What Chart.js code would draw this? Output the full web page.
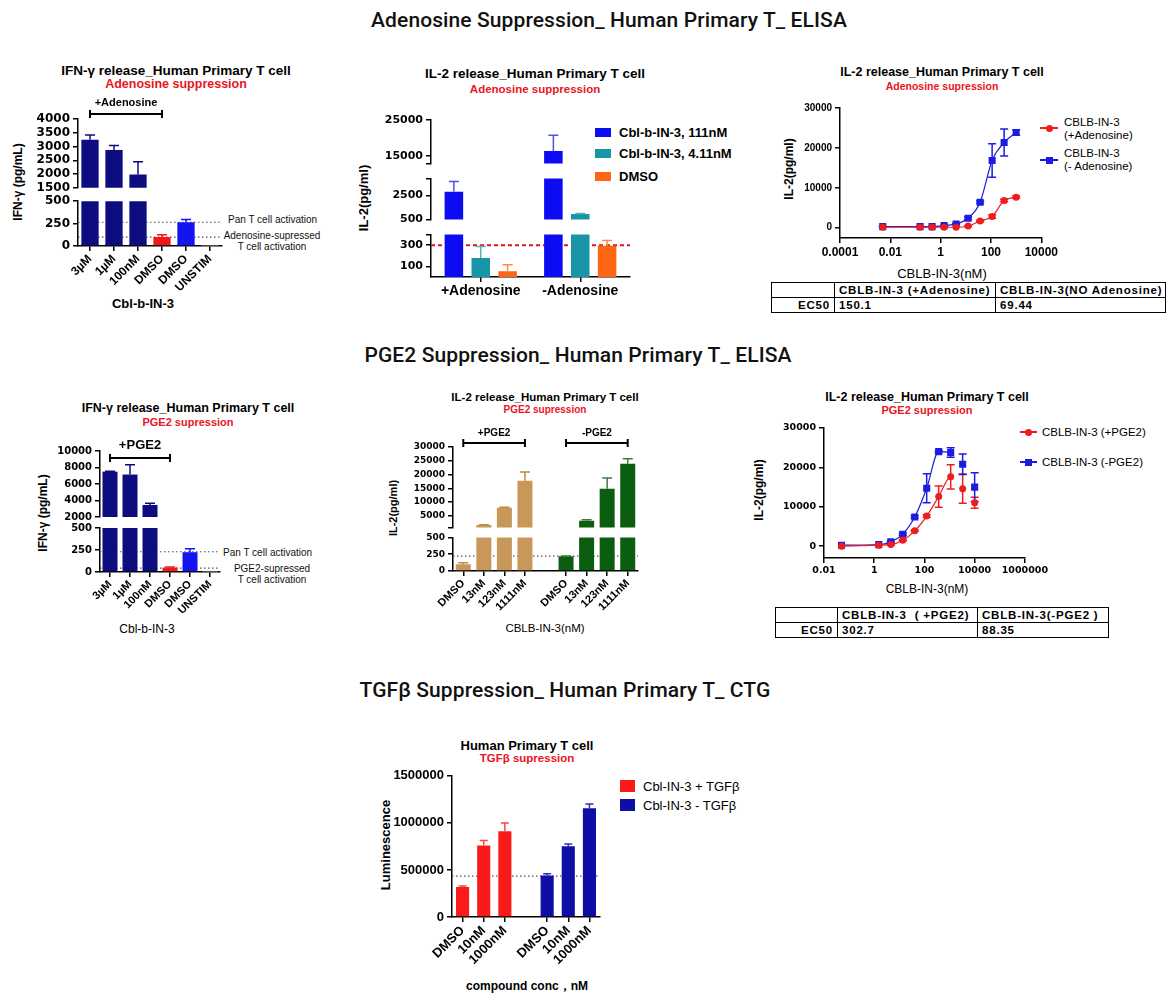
<!DOCTYPE html>
<html>
<head>
<meta charset="UTF-8">
<title>Cbl-b-IN-3 suppression assays</title>
<script src="https://cdn.jsdelivr.net/npm/chart.js"></script>
<style>
  body { margin: 0; width: 1175px; height: 1004px; position: relative; overflow: hidden; background: #fff; color: #000; font-family: 'Liberation Sans', Arial, sans-serif; }
  canvas, .c, .l, .v, table, .sw { position: absolute; }
  .c { transform: translate(-50%, -50%); white-space: nowrap; }
  .l { transform: translateY(-50%); white-space: nowrap; }
  .v { transform: translate(-50%, -50%) rotate(-90deg); white-space: nowrap; font-weight: bold; }
  .sec { font-family: Roboto, sans-serif; font-weight: 500; font-size: 21px; color: #111; letter-spacing: 0.1px; }
  .ttl { font-weight: bold; font-size: 12px; }
  .sub { font-weight: bold; font-size: 11px; color: #e8161e; }
  .note { font-size: 10px; color: #111; }
  .b { font-weight: bold; }
  table { border-collapse: collapse; font-weight: bold; font-size: 11.5px; letter-spacing: 0.8px; table-layout: fixed; }
  td { border: 1px solid #000; padding: 0 4px; height: 14px; line-height: 14px; white-space: nowrap; overflow: hidden; }
  td.r { text-align: right; }
</style>
</head>
<body>

<!-- section titles -->
<div class="c sec" style="left:609px; top:20px">Adenosine Suppression_ Human Primary T_ ELISA</div>
<div class="c sec" style="left:578px; top:355px">PGE2 Suppression_ Human Primary T_ ELISA</div>
<div class="c sec" style="left:565px; top:690px">TGFβ Suppression_ Human Primary T_ CTG</div>

<!-- A: IFN-g, adenosine -->
<div class="c ttl" style="left:176px; top:70px; font-size:13.5px">IFN-γ release_Human Primary T cell</div>
<div class="c sub" style="left:176px; top:84px; font-size:12.5px">Adenosine suppression</div>
<div class="v" style="left:18px; top:182px; font-size:12px">IFN-γ (pg/mL)</div>
<div class="c b" style="left:143px; top:303px; font-size:13px">Cbl-b-IN-3</div>
<div class="l note" style="left:228px; top:219px">Pan T cell activation</div>
<div class="c note" style="left:272px; top:235px">Adenosine-supressed</div>
<div class="c note" style="left:272px; top:246px">T cell activation</div>
<canvas id="aTop" width="235" height="103" style="left:0; top:95px"></canvas>
<canvas id="aBot" width="235" height="111" style="left:0; top:191px"></canvas>

<!-- B: IL-2, adenosine -->
<div class="c ttl" style="left:535px; top:73px; font-size:13.5px">IL-2 release_Human Primary T cell</div>
<div class="c sub" style="left:535px; top:89px; font-size:11.5px">Adenosine suppression</div>
<div class="v" style="left:363px; top:198px; font-size:13px">IL-2(pg/ml)</div>
<div class="sw" style="left:595px; top:128px; width:16px; height:9px; background:#0c0cf2"></div>
<div class="l b" style="left:619px; top:132px; font-size:13px">Cbl-b-IN-3, 111nM</div>
<div class="sw" style="left:595px; top:149px; width:16px; height:9px; background:#1896a8"></div>
<div class="l b" style="left:619px; top:153px; font-size:13px">Cbl-b-IN-3, 4.11nM</div>
<div class="sw" style="left:595px; top:172px; width:16px; height:9px; background:#ff6614"></div>
<div class="l b" style="left:619px; top:176px; font-size:13px">DMSO</div>
<canvas id="bTop" width="300" height="68" style="left:345px; top:105px"></canvas>
<canvas id="bMid" width="300" height="60" style="left:345px; top:169px"></canvas>
<canvas id="bBot" width="300" height="83" style="left:345px; top:225px"></canvas>

<!-- C: dose response, adenosine -->
<div class="c ttl" style="left:942px; top:72px; font-size:12.5px">IL-2 release_Human Primary T cell</div>
<div class="c sub" style="left:942px; top:86px; font-size:10.5px">Adenosine supression</div>
<div class="v" style="left:789px; top:169px; font-size:12px">IL-2(pg/ml)</div>
<div class="c" style="left:942px; top:273px; font-size:13px">CBLB-IN-3(nM)</div>
<div class="sw" style="left:1040px; top:127px; width:18px; height:1.5px; background:#ef1c1c"></div>
<div class="sw" style="left:1045.5px; top:124.5px; width:7px; height:7px; border-radius:50%; background:#ef1c1c"></div>
<div class="l" style="left:1064px; top:122px; font-size:11.5px">CBLB-IN-3</div>
<div class="l" style="left:1064px; top:135px; font-size:11.5px">(+Adenosine)</div>
<div class="sw" style="left:1040px; top:159px; width:18px; height:1.5px; background:#1c1ce0"></div>
<div class="sw" style="left:1045.5px; top:156.5px; width:7px; height:7px; background:#1c1ce0"></div>
<div class="l" style="left:1064px; top:153px; font-size:11.5px">CBLB-IN-3</div>
<div class="l" style="left:1064px; top:166px; font-size:11.5px">(- Adenosine)</div>
<canvas id="cDose" width="290" height="170" style="left:770px; top:95px"></canvas>
<table style="left:771px; top:282px; width:394px">
  <colgroup><col style="width:63px"><col style="width:161px"><col style="width:170px"></colgroup>
  <tr><td></td><td>CBLB-IN-3 (+Adenosine)</td><td>CBLB-IN-3(NO Adenosine)</td></tr>
  <tr><td class="r">EC50</td><td>150.1</td><td>69.44</td></tr>
</table>

<!-- D: IFN-g, PGE2 -->
<div class="c ttl" style="left:188px; top:408px; font-size:12.5px">IFN-γ release_Human Primary T cell</div>
<div class="c sub" style="left:188px; top:422px; font-size:11px">PGE2 supression</div>
<div class="v" style="left:43px; top:513px; font-size:12px">IFN-γ (pg/mL)</div>
<div class="c" style="left:147px; top:629px; font-size:12px">Cbl-b-IN-3</div>
<div class="l note" style="left:223px; top:552px">Pan T cell activation</div>
<div class="c note" style="left:272px; top:568px">PGE2-supressed</div>
<div class="c note" style="left:272px; top:579px">T cell activation</div>
<canvas id="dTop" width="235" height="96" style="left:0; top:430px"></canvas>
<canvas id="dBot" width="235" height="107" style="left:0; top:519px"></canvas>

<!-- E: IL-2, PGE2 bars -->
<div class="c ttl" style="left:545px; top:397px; font-size:11.5px">IL-2 release_Human Primary T cell</div>
<div class="c sub" style="left:545px; top:409px; font-size:10px">PGE2 supression</div>
<div class="v" style="left:393px; top:508px; font-size:11px">IL-2(pg/ml)</div>
<div class="c" style="left:545px; top:628px; font-size:11.5px">CBLB-IN-3(nM)</div>
<canvas id="eTop" width="275" height="111" style="left:380px; top:425px"></canvas>
<canvas id="eBot" width="275" height="89" style="left:380px; top:529px"></canvas>

<!-- F: dose response, PGE2 -->
<div class="c ttl" style="left:927px; top:397px; font-size:12.5px">IL-2 release_Human Primary T cell</div>
<div class="c sub" style="left:927px; top:410px; font-size:11px">PGE2 supression</div>
<div class="v" style="left:759px; top:490px; font-size:12px">IL-2(pg/ml)</div>
<div class="c" style="left:927px; top:589px; font-size:12px">CBLB-IN-3(nM)</div>
<div class="sw" style="left:1020px; top:431px; width:17px; height:1.5px; background:#ef1c1c"></div>
<div class="sw" style="left:1025px; top:428.5px; width:7px; height:7px; border-radius:50%; background:#ef1c1c"></div>
<div class="l" style="left:1042px; top:432px; font-size:11.5px">CBLB-IN-3 (+PGE2)</div>
<div class="sw" style="left:1020px; top:461px; width:17px; height:1.5px; background:#1c1ce0"></div>
<div class="sw" style="left:1025px; top:458.5px; width:7px; height:7px; background:#1c1ce0"></div>
<div class="l" style="left:1042px; top:462px; font-size:11.5px">CBLB-IN-3 (-PGE2)</div>
<canvas id="fDose" width="290" height="172" style="left:760px; top:415px"></canvas>
<table style="left:775px; top:607px; width:333px">
  <colgroup><col style="width:62px"><col style="width:140px"><col style="width:131px"></colgroup>
  <tr><td></td><td>CBLB-IN-3&nbsp; ( +PGE2)</td><td>CBLB-IN-3(-PGE2 )</td></tr>
  <tr><td class="r">EC50</td><td>302.7</td><td>88.35</td></tr>
</table>

<!-- G: TGFb -->
<div class="c ttl" style="left:527px; top:745px; font-size:13px">Human Primary T cell</div>
<div class="c sub" style="left:527px; top:758px; font-size:11.5px">TGFβ supression</div>
<div class="v" style="left:385px; top:845px; font-size:13px">Luminescence</div>
<div class="c b" style="left:527px; top:986px; font-size:12px">compound conc，nM</div>
<div class="sw" style="left:620px; top:780px; width:15px; height:12px; background:#fb1a1a"></div>
<div class="l" style="left:643px; top:786px; font-size:13px">Cbl-IN-3 + TGFβ</div>
<div class="sw" style="left:620px; top:799px; width:15px; height:12px; background:#0e0ea6"></div>
<div class="l" style="left:643px; top:805px; font-size:13px">Cbl-IN-3 - TGFβ</div>
<canvas id="gBar" width="250" height="205" style="left:365px; top:765px"></canvas>

<script>
  // ---- IFN-g release, adenosine suppression ----
  const ifnAdoLabels = ['3µM', '1µM', '100nM', 'DMSO', 'DMSO', 'UNSTIM'];
  const ifnAdoValues = [3250, 2870, 1980, 100, 265, 3];
  const ifnAdoSd = [170, 170, 470, 25, 30, 0];
  const ifnAdoTopTicks = [1500, 2000, 2500, 3000, 3500, 4000];
  const ifnAdoLowTicks = [0, 250, 500];
  const ifnAdoPanLine = 265;
  const ifnAdoSuppLine = 100;

  // ---- IL-2 release, adenosine suppression ----
  const il2AdoGroups = ['+Adenosine', '-Adenosine'];
  const il2Ado111 = [2800, 16400];
  const il2Ado111Sd = [850, 4400];
  const il2Ado4 = [180, 960];
  const il2Ado4Sd = [108, 30];
  const il2AdoDmso = [55, 295];
  const il2AdoDmsoSd = [60, 50];
  const il2AdoTopTicks = [13000, 15000, 25000];
  const il2AdoMidTicks = [500, 2500, 3900];
  const il2AdoLowTicks = [100, 300, 400];
  const il2AdoLine = 300;

  // ---- IL-2 dose response, adenosine ----
  const adoConc = [0.005, 0.152, 0.457, 1.37, 4.12, 12.3, 37, 111, 333, 1000];
  const adoPlus = [100, 100, 100, 100, 100, 400, 1650, 2800, 6800, 7650];
  const adoPlusSd = [0, 0, 0, 0, 0, 100, 200, 450, 300, 300];
  const adoMinus = [250, 250, 250, 500, 930, 2360, 6380, 16830, 21360, 23870];
  const adoMinusSd = [100, 100, 100, 100, 150, 300, 300, 4200, 3400, 700];
  const adoFitPoints = 10;
  const adoXTicks = [0.0001, 0.01, 1, 100, 10000];
  const doseYTicks = [0, 10000, 20000, 30000];

  // ---- IFN-g release, PGE2 suppression ----
  const ifnPgeValues = [7500, 7150, 3460, 50, 225, 2];
  const ifnPgeSd = [50, 1190, 200, 6, 38, 0];
  const ifnPgeTopTicks = [2000, 4000, 6000, 8000, 10000];
  const ifnPgeLowTicks = [0, 250, 500];
  const ifnPgePanLine = 230;
  const ifnPgeSuppLine = 45;

  // ---- IL-2 release, PGE2 suppression ----
  const il2PgeDoses = ['DMSO', '13nM', '123nM', '1111nM'];
  const il2PgePlus = [100, 1600, 7900, 17700];
  const il2PgePlusSd = [22, 100, 200, 3200];
  const il2PgeMinus = [220, 3180, 14830, 23930];
  const il2PgeMinusSd = [5, 360, 3870, 1770];
  const il2PgeTopTicks = [700, 5000, 10000, 15000, 20000, 25000, 30000];
  const il2PgeLowTicks = [0, 250, 500];
  const il2PgeLine = 220;

  // ---- IL-2 dose response, PGE2 ----
  const pgeConc = [0.05, 1.52, 4.57, 13.7, 41, 123, 370, 1111, 3333, 10000];
  const pgePlus = [0, 250, 400, 1500, 3900, 7650, 12600, 17600, 14600, 11000];
  const pgePlusSd = [0, 0, 100, 200, 200, 300, 2700, 3100, 3700, 1400];
  const pgeMinus = [250, 400, 1100, 3050, 7400, 14700, 24000, 23800, 20800, 15000];
  const pgeMinusSd = [0, 0, 200, 300, 300, 3700, 300, 1200, 2600, 3650];
  const pgeFitPoints = 8;
  const pgeXTicks = [0.01, 1, 100, 10000, 1000000];

  // ---- TGFb, CTG luminescence ----
  const tgfDoses = ['DMSO', '10nM', '1000nM'];
  const tgfPlus = [318000, 759000, 911000];
  const tgfPlusSd = [10000, 53000, 88000];
  const tgfMinus = [441000, 752000, 1154000];
  const tgfMinusSd = [18000, 24000, 46000];
  const tgfTicks = [0, 500000, 1000000, 1500000];
  const tgfLine = 434000;

  const SANS = "'Liberation Sans', Arial, sans-serif";
  const WIDE = "'DejaVu Sans', sans-serif";
  const f = (size, family = SANS, weight = 'bold') => ({ size, family, weight });

  const NAVY = '#0d0d80', RED = '#f01818', BLUE = '#1414f0', GRAY = '#9a9a9a';
  const ifnColors = [NAVY, NAVY, NAVY, RED, BLUE, GRAY];

  Chart.defaults.color = '#000';
  Chart.defaults.animation = false;
  Chart.defaults.font.family = SANS;
  Chart.defaults.plugins.legend.display = false;
  Chart.defaults.plugins.tooltip.enabled = false;

  // error bars, reference lines and brackets
  function drawErrors(chart, o) {
    const { ctx, chartArea: a } = chart;
    const y = chart.scales.y;
    ctx.save();
    if (o.clip) { ctx.beginPath(); ctx.rect(a.left, a.top, a.right - a.left, a.bottom - a.top); ctx.clip(); }
    chart.data.datasets.forEach((ds, di) => {
      if (!ds.sd) return;
      chart.getDatasetMeta(di).data.forEach((el, i) => {
        const raw = ds.data[i];
        const v = raw !== null && typeof raw === 'object' ? raw.y : raw;
        const e = ds.sd[i];
        if (v == null || !e) return;
        const top = y.getPixelForValue(v + e);
        const bot = y.getPixelForValue(o.twoSided ? v - e : v);
        ctx.strokeStyle = Array.isArray(ds.errColor) ? ds.errColor[i] : ds.errColor;
        ctx.lineWidth = 1.5;
        ctx.beginPath();
        ctx.moveTo(el.x, bot); ctx.lineTo(el.x, top);
        ctx.moveTo(el.x - o.cap, top); ctx.lineTo(el.x + o.cap, top);
        if (o.twoSided) { ctx.moveTo(el.x - o.cap, bot); ctx.lineTo(el.x + o.cap, bot); }
        ctx.stroke();
      });
    });
    ctx.restore();
  }

  const extrasPlugin = {
    id: 'extras',
    beforeDatasetsDraw(chart, args, o) {
      const { ctx, chartArea: a } = chart;
      const y = chart.scales.y;
      ctx.save();
      (o.lines || []).forEach(l => {
        const py = y.getPixelForValue(l.value);
        ctx.beginPath();
        ctx.setLineDash(l.dash);
        ctx.lineWidth = l.width;
        ctx.strokeStyle = l.color;
        ctx.moveTo(a.left, py); ctx.lineTo(a.right, py);
        ctx.stroke();
      });
      ctx.restore();
      if (o.errBehind) drawErrors(chart, o);
    },
    afterDatasetsDraw(chart, args, o) {
      if (!o.errBehind) drawErrors(chart, o);
      const { ctx, chartArea: a } = chart;
      const x = chart.scales.x;
      ctx.save();
      (o.brackets || []).forEach(b => {
        const x0 = x.getPixelForValue(b.from), x1 = x.getPixelForValue(b.to), py = a.top - b.dy;
        ctx.strokeStyle = '#000';
        ctx.lineWidth = 2;
        ctx.beginPath();
        ctx.moveTo(x0, py); ctx.lineTo(x1, py);
        ctx.moveTo(x0, py - 4); ctx.lineTo(x0, py + 4);
        ctx.moveTo(x1, py - 4); ctx.lineTo(x1, py + 4);
        ctx.stroke();
        ctx.fillStyle = '#000';
        ctx.font = b.font;
        ctx.textAlign = 'center';
        ctx.textBaseline = 'middle';
        ctx.fillText(b.text, (x0 + x1) / 2, py - b.gap);
      });
      ctx.restore();
    }
  };

  const dotted = v => ({ value: v, dash: [1.5, 2.5], width: 1.2, color: '#555' });

  function yAxis(min, max, ticks, shown, width, font) {
    return {
      min, max,
      afterBuildTicks: s => { s.ticks = ticks.map(v => ({ value: v })); },
      afterFit: s => { s.width = width; },
      border: { color: '#000', width: 1.5 },
      grid: { drawOnChartArea: false, color: '#000', lineWidth: 1.5, tickLength: 5 },
      ticks: { autoSkip: false, font, color: '#000', padding: 3, callback: v => shown.includes(v) ? String(v) : '' }
    };
  }

  function xCat(font, height, rotation) {
    if (!font) return { display: false, offset: true };
    return {
      offset: true,
      afterFit: s => { s.height = height; },
      border: { color: '#000', width: 1.5 },
      grid: { offset: false, drawOnChartArea: false, color: '#000', lineWidth: 1.5, tickLength: 5 },
      ticks: {
        autoSkip: false, maxRotation: rotation, minRotation: rotation, font, color: '#000', padding: 1,
        callback(v) { const l = this.getLabelForValue(v); return l === '' ? null : l; }
      }
    };
  }

  function bars(id, labels, datasets, y, x, padding, extras) {
    return new Chart(document.getElementById(id), {
      type: 'bar',
      data: { labels, datasets },
      options: { responsive: false, layout: { padding }, scales: { x, y }, plugins: { extras } },
      plugins: [extrasPlugin]
    });
  }

  function dose(id, conc, series, xMin, xMax, xTicks, yMin, xFont, yFont, L, B, padding) {
    const datasets = series.map(s => ({
      data: conc.map((c, i) => ({ x: c, y: s.values[i] })),
      sd: s.sd, errColor: s.color,
      showLine: true, cubicInterpolationMode: 'monotone',
      borderColor: s.color, borderWidth: 1.2,
      pointStyle: s.marker, pointRadius: s.radius, pointBackgroundColor: s.color, pointBorderWidth: 0,
      segment: { borderColor: c => c.p0DataIndex >= s.fit - 1 ? 'rgba(0,0,0,0)' : s.color }
    }));
    return new Chart(document.getElementById(id), {
      type: 'scatter',
      data: { datasets },
      options: {
        responsive: false,
        layout: { padding },
        scales: {
          x: {
            type: 'logarithmic', min: xMin, max: xMax,
            afterBuildTicks: s => { s.ticks = xTicks.map(v => ({ value: v })); },
            afterFit: s => { s.height = B; },
            border: { color: '#000', width: 1.5 },
            grid: { drawOnChartArea: false, color: '#000', lineWidth: 1.5, tickLength: 5 },
            ticks: { autoSkip: false, maxRotation: 0, font: xFont, color: '#000', padding: 2, callback: v => String(v) }
          },
          y: yAxis(yMin, 30000, doseYTicks, doseYTicks, L, yFont)
        },
        plugins: { extras: { errBehind: true, twoSided: true, cap: 4 } }
      },
      plugins: [extrasPlugin]
    });
  }

  // A: IFN-g, adenosine (broken axis)
  const ifnAdoSet = () => [{ data: ifnAdoValues, sd: ifnAdoSd, backgroundColor: ifnColors, errColor: ifnColors,
    clip: 0, borderWidth: 0, categoryPercentage: 1, barPercentage: 0.72 }];
  bars('aTop', ifnAdoLabels, ifnAdoSet(), yAxis(1500, 4000, ifnAdoTopTicks, ifnAdoTopTicks, 78, f(12, WIDE)),
    xCat(null), { top: 24, right: 13, bottom: 8 },
    { clip: true, cap: 5, brackets: [{ from: 0, to: 3, dy: 5, gap: 11, text: '+Adenosine', font: 'bold 11px ' + SANS }] });
  bars('aBot', ifnAdoLabels, ifnAdoSet(), yAxis(0, 500, ifnAdoLowTicks, ifnAdoLowTicks, 78, f(12, WIDE)),
    xCat(f(12), 56, 45), { top: 8, right: 13 },
    { clip: true, cap: 5, lines: [dotted(ifnAdoPanLine), dotted(ifnAdoSuppLine)] });

  // B: IL-2, adenosine (three segments)
  const il2AdoSets = () => [
    { data: il2Ado111, sd: il2Ado111Sd, backgroundColor: '#0c0cf2', errColor: '#5050e8' },
    { data: il2Ado4, sd: il2Ado4Sd, backgroundColor: '#1896a8', errColor: '#60aebb' },
    { data: il2AdoDmso, sd: il2AdoDmsoSd, backgroundColor: '#ff6614', errColor: '#ff8a4a' }
  ].map(d => Object.assign(d, { clip: 0, borderWidth: 0, categoryPercentage: 0.81, barPercentage: 0.69 }));
  bars('bTop', il2AdoGroups, il2AdoSets(), yAxis(13000, 25000, il2AdoTopTicks, [15000, 25000], 86, f(11, WIDE)),
    xCat(null), { top: 15, right: 15, bottom: 8 }, { clip: true, cap: 5 });
  bars('bMid', il2AdoGroups, il2AdoSets(), yAxis(500, 3900, il2AdoMidTicks, [500, 2500], 86, f(11, WIDE)),
    xCat(null), { top: 8, right: 15, bottom: 8 }, { clip: true, cap: 5 });
  bars('bBot', il2AdoGroups, il2AdoSets(), yAxis(0, 400, il2AdoLowTicks, [100, 300], 86, f(11, WIDE)),
    xCat(f(14), 31, 0), { top: 8, right: 15 },
    { clip: true, cap: 5, lines: [{ value: il2AdoLine, dash: [4, 3], width: 2, color: '#e0141c' }] });

  // C: dose response, adenosine
  dose('cDose', adoConc, [
    { values: adoPlus, sd: adoPlusSd, color: '#ef1c1c', marker: 'circle', radius: 3.5, fit: adoFitPoints },
    { values: adoMinus, sd: adoMinusSd, color: '#1c1ce0', marker: 'rect', radius: 5, fit: adoFitPoints }
  ], 0.0001, 10000, adoXTicks, -2600, f(12), f(10), 70, 27, { top: 13, right: 17 });

  // D: IFN-g, PGE2 (broken axis)
  const ifnPgeSet = () => [{ data: ifnPgeValues, sd: ifnPgeSd, backgroundColor: ifnColors, errColor: ifnColors,
    clip: 0, borderWidth: 0, categoryPercentage: 1, barPercentage: 0.75 }];
  bars('dTop', ifnAdoLabels, ifnPgeSet(), yAxis(2000, 10000, ifnPgeTopTicks, ifnPgeTopTicks, 100, f(10, WIDE)),
    xCat(null), { top: 21, right: 15, bottom: 8 },
    { clip: true, cap: 5, brackets: [{ from: 0, to: 3, dy: -7, gap: 13, text: '+PGE2', font: 'bold 13px ' + SANS }] });
  bars('dBot', ifnAdoLabels, ifnPgeSet(), yAxis(0, 500, ifnPgeLowTicks, ifnPgeLowTicks, 100, f(10, WIDE)),
    xCat(f(11), 54, 45), { top: 8, right: 15 },
    { clip: true, cap: 5, lines: [dotted(ifnPgePanLine), dotted(ifnPgeSuppLine)] });

  // E: IL-2, PGE2 bars (broken axis)
  const gap = n => Array(n).fill(null);
  const il2PgeLabels = [...il2PgeDoses, '', ...il2PgeDoses];
  const il2PgeSets = () => [
    { data: [...il2PgePlus, ...gap(5)], sd: [...il2PgePlusSd, ...gap(5)], backgroundColor: '#c8975a', errColor: '#c08a48' },
    { data: [...gap(5), ...il2PgeMinus], sd: [...gap(5), ...il2PgeMinusSd], backgroundColor: '#0b5e0f', errColor: '#3f7a3f' }
  ].map(d => Object.assign(d, { clip: 0, borderWidth: 0, grouped: false, categoryPercentage: 1, barPercentage: 0.73 }));
  bars('eTop', il2PgeLabels, il2PgeSets(), yAxis(700, 30000, il2PgeTopTicks, il2PgeTopTicks.slice(1), 73, f(9, WIDE)),
    xCat(null), { top: 22, right: 17, bottom: 8 },
    { clip: true, cap: 5, brackets: [
      { from: 0, to: 3, dy: 4, gap: 10, text: '+PGE2', font: 'bold 10px ' + SANS },
      { from: 5, to: 8, dy: 4, gap: 10, text: '-PGE2', font: 'bold 10px ' + SANS }
    ] });
  bars('eBot', il2PgeLabels, il2PgeSets(), yAxis(0, 500, il2PgeLowTicks, il2PgeLowTicks, 73, f(9, WIDE)),
    xCat(f(11), 47, 45), { top: 8, right: 17 },
    { clip: true, cap: 5, lines: [dotted(il2PgeLine)] });

  // F: dose response, PGE2
  dose('fDose', pgeConc, [
    { values: pgePlus, sd: pgePlusSd, color: '#ef1c1c', marker: 'circle', radius: 3.5, fit: pgeFitPoints },
    { values: pgeMinus, sd: pgeMinusSd, color: '#1c1ce0', marker: 'rect', radius: 5, fit: pgeFitPoints }
  ], 0.01, 1000000, pgeXTicks, -3000, f(9.5, WIDE), f(9.5, WIDE), 64, 29, { top: 13, right: 22 });

  // G: TGFb luminescence
  const tgfLabels = [...tgfDoses, '', ...tgfDoses];
  bars('gBar', tgfLabels, [
    { data: [...tgfPlus, ...gap(4)], sd: [...tgfPlusSd, ...gap(4)], backgroundColor: '#fb1a1a', errColor: '#f04848' },
    { data: [...gap(4), ...tgfMinus], sd: [...gap(4), ...tgfMinusSd], backgroundColor: '#0e0ea6', errColor: '#3030b8' }
  ].map(d => Object.assign(d, { clip: 0, borderWidth: 0, grouped: false, categoryPercentage: 1, barPercentage: 0.62 })),
    yAxis(0, 1500000, tgfTicks, tgfTicks, 87, f(13)), xCat(f(13), 53, 45), { top: 10, right: 15 },
    { clip: true, cap: 4, lines: [dotted(tgfLine)] });
</script>

</body>
</html>
